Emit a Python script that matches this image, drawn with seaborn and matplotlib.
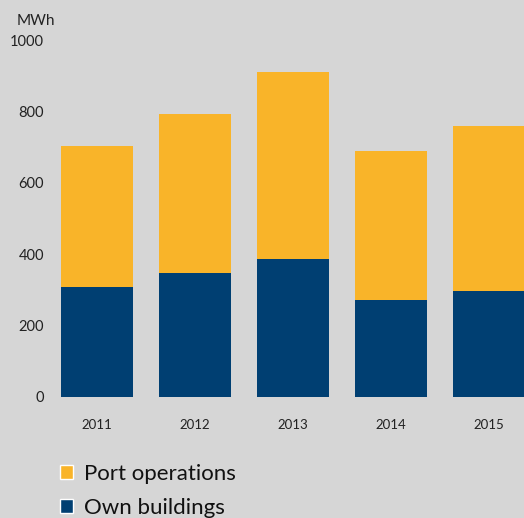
import matplotlib
matplotlib.use("Agg")
import matplotlib.pyplot as plt
from matplotlib.patches import Patch
import seaborn as sns
import pandas as pd

years = ["2011", "2012", "2013", "2014", "2015"]
own_buildings = [308, 347, 387, 272, 298]
port_operations = [395, 446, 523, 417, 461]
y_ticks = [0, 200, 400, 600, 800, 1000]

BG = "#d6d6d6"
YELLOW = "#f9b429"
BLUE = "#003f72"

df = pd.DataFrame({"year": years, "own": own_buildings, "port": port_operations})
df["total"] = df["own"] + df["port"]

sns.set_theme(style="white")
plt.rcParams["font.family"] = ["Lato", "DejaVu Sans"]

fig = plt.figure(figsize=(5.24, 5.18), dpi=100, facecolor=BG)
ax = fig.add_axes([48 / 524, 121 / 518, 476 / 524, 357 / 518])
ax.set_facecolor(BG)

# stacked bars: total in yellow, own buildings in blue on top of it
sns.barplot(data=df, x="year", y="total", color=YELLOW, width=0.725,
            saturation=1, linewidth=0, ax=ax)
sns.barplot(data=df, x="year", y="own", color=BLUE, width=0.725,
            saturation=1, linewidth=0, ax=ax)

ax.set_xlim(-0.5, 4.357)
ax.set_ylim(0, 1000)
ax.set_yticks(y_ticks)
ax.set_yticklabels([str(t) for t in y_ticks], fontsize=10.5, color="#222222")
ax.tick_params(axis="y", length=0, pad=3)
ax.tick_params(axis="x", length=0, pad=16, labelsize=9.5, labelcolor="#222222")
ax.set_xlabel("")
ax.set_ylabel("")
for s in ax.spines.values():
    s.set_visible(False)

fig.text(17 / 524, 1 - 21 / 518, "MWh", fontsize=11, color="#222222",
         va="center", ha="left")

handles = [Patch(facecolor=YELLOW, label="Port operations"),
           Patch(facecolor=BLUE, label="Own buildings")]
fig.legend(handles=handles, loc="upper left", bbox_to_anchor=(40 / 524, 1 - 444 / 518),
           frameon=False, fontsize=16, handlelength=0.6, handleheight=0.6,
           handletextpad=0.5, labelspacing=0.62, labelcolor="#111111")

fig.savefig("out.png", dpi=100, facecolor=BG)
